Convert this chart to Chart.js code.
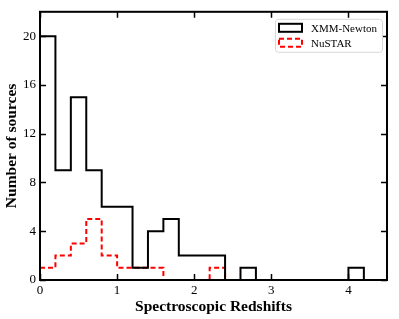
<!DOCTYPE html>
<html><head><meta charset="utf-8">
<script src="https://cdn.jsdelivr.net/npm/chart.js@4.4.0/dist/chart.umd.min.js"></script>
<style>html,body{margin:0;padding:0;background:#fff}#wrap{width:399px;height:319px}</style>
</head><body><div id="wrap"><canvas id="c"></canvas></div>
<script>
// Bin edges (left edges) and counts
const xmmEdges = [0,0.2,0.4,0.6,0.8,1.0,1.2,1.4,1.6,1.8,2.0,2.2,2.4,2.6,2.8,3.0,3.2,3.4,3.6,3.8,4.0,4.2];
const xmmCounts = [20,9,15,9,6,6,1,4,5,2,2,2,0,1,0,0,0,0,0,0,1,0];
const nuEdges = [0,0.2,0.4,0.6,0.8,1.0,1.2,1.4,1.6,1.8,2.0,2.2,2.4];
const nuCounts = [1,2,3,5,2,1,1,1,0,0,0,1,0];
const seriesNames = ["XMM-Newton","NuSTAR"];
const xTicks = [0,1,2,3,4];
const yTicks = [0,4,8,12,16,20];

function toPts(edges, counts){
  return edges.map((e,i)=>({x:e,y:counts[i]}));
}
const FONT='"Liberation Serif","Times New Roman",serif';

const framePlugin={
  id:'frame',
  afterDraw(chart){
    const {ctx,chartArea:a,scales}=chart;
    ctx.save();
    ctx.strokeStyle='#000';ctx.lineWidth=2;
    ctx.strokeRect(a.left,a.top,a.right-a.left,a.bottom-a.top);
    ctx.lineWidth=1.5;
    const L=6;
    xTicks.forEach(v=>{const px=Math.round(scales.x.getPixelForValue(v))+0.5;
      ctx.beginPath();ctx.moveTo(px,a.bottom);ctx.lineTo(px,a.bottom-L);
      ctx.moveTo(px,a.top);ctx.lineTo(px,a.top+L);ctx.stroke();});
    yTicks.forEach(v=>{const py=Math.round(scales.y.getPixelForValue(v))+0.5;
      ctx.beginPath();ctx.moveTo(a.left,py);ctx.lineTo(a.left+L,py);
      ctx.moveTo(a.right,py);ctx.lineTo(a.right-L,py);ctx.stroke();});
    // legend
    const bx=a.right-112, by=a.top+7, bw=107, bh=33;
    ctx.fillStyle='#fff';ctx.strokeStyle='#d8d8d8';ctx.lineWidth=1;
    ctx.beginPath();ctx.roundRect(bx+0.5,by+0.5,bw,bh,3);ctx.fill();ctx.stroke();
    const rows=[{c:'#000',d:[]},{c:'#ff0000',d:[5,3]}];
    rows.forEach((r,i)=>{
      const cy=by+9+i*15;
      ctx.strokeStyle=r.c;ctx.lineWidth=2;ctx.setLineDash(r.d);
      ctx.strokeRect(bx+4,cy-4,23,8);
      ctx.setLineDash([]);
      ctx.fillStyle='#000';ctx.font='11px '+FONT;ctx.textBaseline='middle';ctx.textAlign='left';
      ctx.fillText(seriesNames[i],bx+36,cy+1);
    });
    ctx.restore();
  }
};

new Chart(document.getElementById('c'),{
  type:'line',
  data:{datasets:[
    {label:seriesNames[0],data:toPts(xmmEdges,xmmCounts),stepped:'before',borderColor:'#000',borderWidth:2,pointRadius:0,fill:false},
    {label:seriesNames[1],data:toPts(nuEdges,nuCounts),stepped:'before',borderColor:'#ff0000',borderWidth:2,borderDash:[5,3],pointRadius:0,fill:false}
  ]},
  options:{
    responsive:true,maintainAspectRatio:false,animation:false,
    layout:{padding:{top:6,right:12,left:3,bottom:0}},
    plugins:{legend:{display:false},tooltip:{enabled:false}},
    scales:{
      x:{type:'linear',min:0,max:4.5,
        afterBuildTicks(s){s.ticks=xTicks.map(v=>({value:v}));},
        afterFit(s){s.height=39;},
        grid:{display:false,drawTicks:false},border:{display:false},
        ticks:{color:'#000',font:{family:FONT,size:13},padding:3,maxRotation:0},
        title:{display:true,text:'Spectroscopic Redshifts',color:'#000',font:{family:FONT,size:15.5,weight:'bold'},padding:{top:0,bottom:3}}
      },
      y:{type:'linear',min:0,max:22,
        afterBuildTicks(s){s.ticks=yTicks.map(v=>({value:v}));},
        afterFit(s){s.width=37;},
        grid:{display:false,drawTicks:false},border:{display:false},
        ticks:{color:'#000',font:{family:FONT,size:13},padding:4},
        title:{display:true,text:'Number of sources',color:'#000',font:{family:FONT,size:15.5,weight:'bold'},padding:{top:0,bottom:0}}
      }
    }
  },
  plugins:[framePlugin]
});
</script></body></html>
